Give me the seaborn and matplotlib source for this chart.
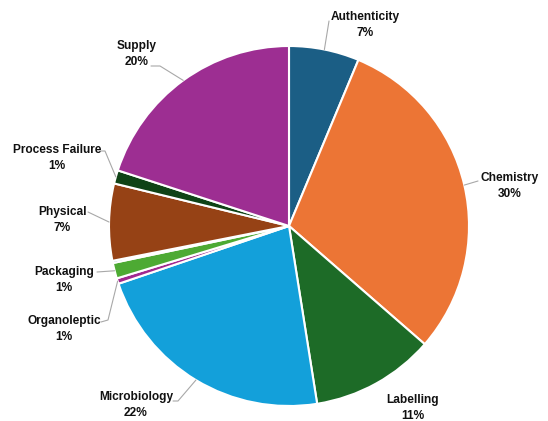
import matplotlib.pyplot as plt
import seaborn as sns
import numpy as np

sns.set_theme(style='white')
plt.rcParams['font.family'] = ['Liberation Sans', 'DejaVu Sans']

# Slice data (clockwise from 12 o'clock)
categories = ['Authenticity', 'Chemistry', 'Labelling', 'Microbiology', 'Organoleptic',
              'Packaging', '', 'Physical', 'Process Failure', 'Supply']
values = [6.3, 30.1, 11.1, 22.3, 0.5, 1.4, 0.2, 6.9, 1.2, 20.0]
pct_labels = ['7%', '30%', '11%', '22%', '1%', '1%', '', '7%', '1%', '20%']
colors = ['#1b5e85', '#ec7535', '#1d6b27', '#13a0da', '#a0288f',
          '#4daa33', '#1b5e85', '#964215', '#0f4316', '#9d2e92']

# label centres and leader elbows in pixel space of the 548x421 image
label_pos = [(365, 25), (510, 186), (413, 408), (136, 405), (64, 329),
             (64, 280), None, (62, 220), (57, 158), (137, 54)]
elbows = [[(329, 21)], [(478, 181)], None, [(178, 401), (173, 401)],
          [(108, 320), (101, 322)], [(97, 272)], None, [(88, 212)],
          [(105, 151), (101, 151)], [(160, 66), (151, 66)]]

CX, CY, R = 289, 226, 180


def to_data(p):
    return ((p[0] - CX) / R, (CY - p[1]) / R)


fig = plt.figure(figsize=(5.48, 4.21), dpi=100)
ax = fig.add_axes([0, 0, 1, 1])
wedges, _ = ax.pie(values, colors=colors, startangle=90, counterclock=False,
                   wedgeprops=dict(edgecolor='white', linewidth=1.5))
ax.set_xlim(-CX / R, (548 - CX) / R)
ax.set_ylim(-(421 - CY) / R, CY / R)
ax.set_aspect('equal')
ax.axis('off')

for w, name, pct, pos, elb in zip(wedges, categories, pct_labels, label_pos, elbows):
    if pos is None:
        continue
    ang = np.deg2rad((w.theta1 + w.theta2) / 2)
    if elb is not None:
        pts = [(np.cos(ang), np.sin(ang))] + [to_data(p) for p in elb]
        xs, ys = zip(*pts)
        ax.plot(xs, ys, color='#a8a8a8', lw=0.8)
    x, y = to_data(pos)
    ax.text(x, y, f'{name}\n{pct}', ha='center', va='center', fontsize=8.6,
            fontweight='bold', color='#111111', linespacing=1.55)

plt.savefig('out.png', dpi=100)
